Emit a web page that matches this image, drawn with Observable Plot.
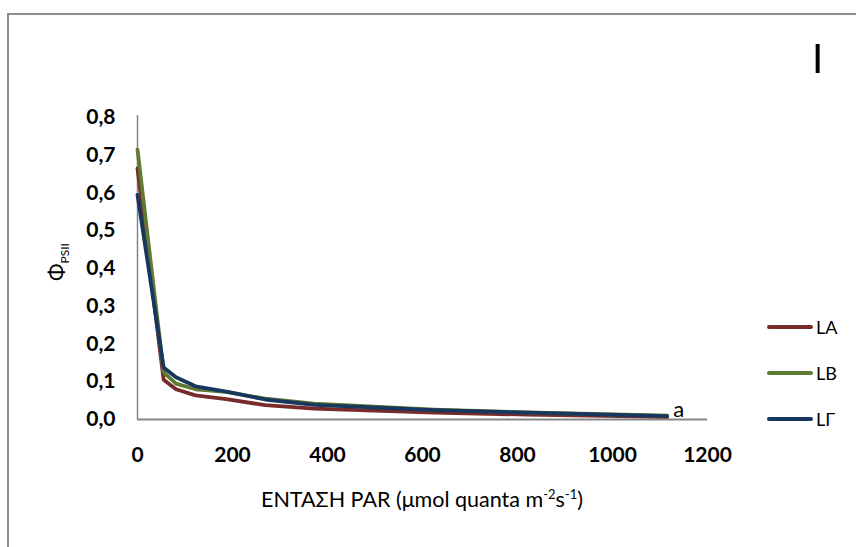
<!DOCTYPE html>
<html>
<head>
<meta charset="utf-8">
<script src="https://cdn.jsdelivr.net/npm/d3@7"></script>
<script src="https://cdn.jsdelivr.net/npm/@observablehq/plot@0.6"></script>
<style>
  html, body { margin: 0; padding: 0; background: #fff; }
  #wrap { position: relative; width: 856px; height: 547px; overflow: hidden; font-family: Lato, "Open Sans", sans-serif; }
  #frame { position: absolute; left: 7px; top: 13px; width: 900px; height: 600px; border-left: 2px solid #8c8c8c; border-top: 2px solid #8c8c8c; }
  #legend { position: absolute; left: 767px; top: 0; }
  .item { position: absolute; left: 0; display: flex; align-items: center; white-space: nowrap; }
  .item span.sw { display: inline-block; width: 46px; height: 4px; border-radius: 2px; margin-right: 3px; }
  .item span.lb { font-size: 18px; color: #000; }
  #big { position: absolute; left: 812px; top: 34px; font-size: 40px; font-family: Lato, sans-serif; }
</style>
</head>
<body>
<div id="wrap">
  <div id="frame"></div>
  <div id="chart"></div>
  <div id="legend"></div>
  <div id="big">I</div>
</div>
<script>
const par = [0, 55, 81, 122, 187, 269, 372, 530, 625, 820, 1115];
const seriesNames = ["LA", "LB", "LΓ"];
const valuesLA = [0.665, 0.105, 0.080, 0.064, 0.054, 0.038, 0.029, 0.022, 0.018, 0.013, 0.007];
const valuesLB = [0.715, 0.125, 0.095, 0.080, 0.073, 0.055, 0.042, 0.032, 0.026, 0.019, 0.010];
const valuesLG = [0.595, 0.138, 0.112, 0.088, 0.074, 0.053, 0.039, 0.030, 0.025, 0.018, 0.009];
const colors = ["#772b2a", "#5f7a32", "#17375e"];
const xTicks = [0, 200, 400, 600, 800, 1000, 1200];
const yTicks = [0, 0.1, 0.2, 0.3, 0.4, 0.5, 0.6, 0.7, 0.8];
const endLabel = "a";

const allValues = [valuesLA, valuesLB, valuesLG];
const data = [];
seriesNames.forEach((s, i) => par.forEach((x, j) => data.push({series: s, x, y: allValues[i][j]})));
const lastBlue = data.filter(d => d.series === "LΓ").slice(-1);

const fmt = d => d.toFixed(1).replace(".", ",");

const plot = Plot.plot({
  width: 856,
  height: 547,
  marginLeft: 137,
  marginRight: 149,
  marginTop: 117,
  marginBottom: 128,
  style: {fontFamily: "Lato, 'Open Sans', sans-serif", background: "transparent", overflow: "visible", color: "#000"},
  x: {domain: [0, 1200], ticks: xTicks, tickFormat: d => String(d), label: null},
  y: {domain: [0, 0.8], ticks: yTicks, tickFormat: fmt, label: null},
  color: {domain: seriesNames, range: colors},
  marks: [
    Plot.axisX({ticks: xTicks, tickSize: 0, tickPadding: 28, fontSize: 21, fontWeight: "bold", tickFormat: d => String(d), label: null}),
    Plot.axisY({ticks: yTicks, tickSize: 0, tickPadding: 22, fontSize: 21, fontWeight: "bold", tickFormat: fmt, label: null}),
    Plot.ruleY([0], {stroke: "#868686", strokeWidth: 2}),
    Plot.ruleX([0], {stroke: "#868686", strokeWidth: 1.5, y1: 0, y2: 0.805}),
    Plot.line(data, {x: "x", y: "y", z: "series", stroke: "series", strokeWidth: 3.8, strokeLinejoin: "round"}),
    Plot.text(lastBlue, {x: "x", y: "y", text: () => endLabel, textAnchor: "start", dx: 6, dy: -6, fontSize: 22, fill: "#000"})
  ]
});
document.getElementById("chart").appendChild(plot);

const svg = d3.select(plot);
// Y title
const yt = svg.append("text")
  .attr("transform", "translate(64,262) rotate(-90)")
  .attr("text-anchor", "middle")
  .attr("fill", "#000")
  .style("font-size", "21px")
  .style("font-family", "Lato, sans-serif");
yt.append("tspan").text("Φ");
yt.append("tspan").attr("dy", "5").style("font-size", "12px").text("PSII");

// X title
const xt = svg.append("text")
  .attr("x", 422).attr("y", 507)
  .attr("text-anchor", "middle")
  .attr("fill", "#000")
  .style("font-size", "21.5px")
  .style("font-family", "Lato, sans-serif");
xt.append("tspan").text("ΕΝΤΑΣΗ PAR (μmol quanta m");
xt.append("tspan").attr("dy", "-8").style("font-size", "13px").text("-2");
xt.append("tspan").attr("dy", "8").text("s");
xt.append("tspan").attr("dy", "-8").style("font-size", "13px").text("-1");
xt.append("tspan").attr("dy", "8").text(")");

// Legend
const leg = document.getElementById("legend");
const legY = [327, 373, 419];
seriesNames.forEach((s, i) => {
  const it = document.createElement("div");
  it.className = "item";
  it.style.top = (legY[i] - 11) + "px";
  it.innerHTML = `<span class="sw" style="background:${colors[i]}"></span><span class="lb">${s}</span>`;
  leg.appendChild(it);
});
</script>
</body>
</html>
